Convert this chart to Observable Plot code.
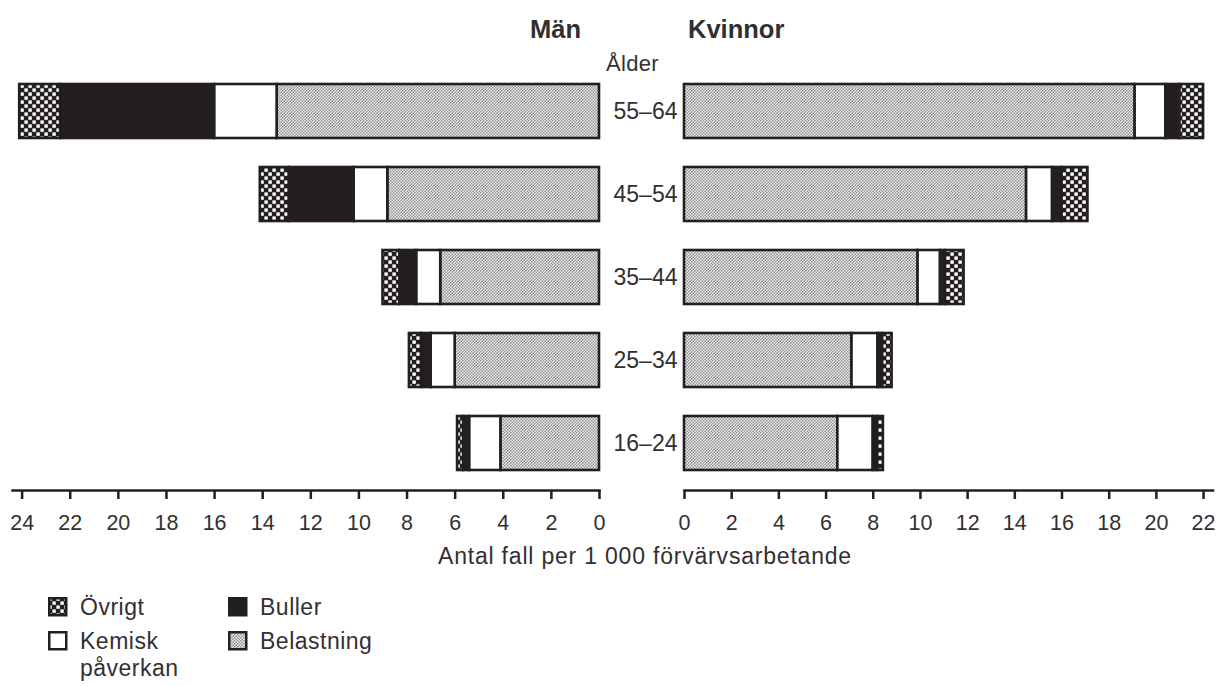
<!DOCTYPE html>
<html>
<head>
<meta charset="utf-8">
<script src="https://cdn.jsdelivr.net/npm/d3@7"></script>
<script src="https://cdn.jsdelivr.net/npm/@observablehq/plot@0.6"></script>
<style>
  html, body { margin: 0; padding: 0; background: #ffffff; }
  #root { position: relative; width: 1222px; height: 686px; overflow: hidden;
          font-family: "Liberation Sans", Arial, Helvetica, sans-serif; color: #332f30; }
  .abs { position: absolute; line-height: 1; white-space: nowrap; }
  .plot { position: absolute; top: 0; }
</style>
</head>
<body>
<svg width="0" height="0" style="position:absolute">
  <defs>
    <pattern id="belast" width="3" height="3" patternUnits="userSpaceOnUse">
      <rect width="3" height="3" fill="#efefef"/>
      <rect x="0" y="0" width="1.5" height="1.5" fill="#8f8f8f"/>
      <rect x="1.5" y="1.5" width="1.5" height="1.5" fill="#8f8f8f"/>
    </pattern>
    <pattern id="ovrigt" width="8" height="8" patternUnits="userSpaceOnUse">
      <rect width="8" height="8" fill="#231f20"/>
      <rect x="0.4" y="0.4" width="3.4" height="3.4" fill="#ffffff"/>
      <rect x="4.4" y="4.4" width="3.4" height="3.4" fill="#ffffff"/>
    </pattern>
  </defs>
</svg>
<div id="root"></div>
<script>
// ---- data ----
const ages = ["55–64", "45–54", "35–44", "25–34", "16–24"];
const causes = ["Belastning", "Kemisk påverkan", "Buller", "Övrigt"];

const menBelastning = [13.4, 8.8, 6.6, 6.0, 4.1];
const menKemisk     = [2.6, 1.4, 1.0, 1.0, 1.3];
const menBuller     = [6.4, 2.7, 0.7, 0.4, 0.25];
const menOvrigt     = [1.7, 1.2, 0.7, 0.5, 0.25];

const womenBelastning = [19.1, 14.5, 9.9, 7.1, 6.5];
const womenKemisk     = [1.3, 1.1, 0.95, 1.1, 1.5];
const womenBuller     = [0.6, 0.4, 0.2, 0.2, 0.18];
const womenOvrigt     = [1.0, 1.1, 0.8, 0.4, 0.25];

const menTicks = [0, 2, 4, 6, 8, 10, 12, 14, 16, 18, 20, 22, 24];
const womenTicks = [0, 2, 4, 6, 8, 10, 12, 14, 16, 18, 20, 22];

const titleMen = "Män";
const titleWomen = "Kvinnor";
const ageLabel = "Ålder";
const axisTitle = "Antal fall per 1 000 förvärvsarbetande";

// ---- build tables ----
function table(series) {
  const rows = [];
  ages.forEach((a, i) => {
    causes.forEach((c, j) => rows.push({age: a, cause: c, value: series[j][i]}));
  });
  return rows;
}
const menData = table([menBelastning, menKemisk, menBuller, menOvrigt]);
const womenData = table([womenBelastning, womenKemisk, womenBuller, womenOvrigt]);

const ink = "#231f20";
const fills = ["url(#belast)", "#ffffff", ink, "url(#ovrigt)"];
const common = {
  height: 560,
  marginTop: 64,
  marginBottom: 70,
  style: {fontFamily: "'Liberation Sans', Arial, Helvetica, sans-serif", fontSize: "21px", color: "#332f30", background: "transparent"},
  y: {domain: ages, paddingInner: 0.35, paddingOuter: 0.228, axis: null},
  color: {type: "ordinal", domain: causes, range: fills}
};
function bars(data) {
  return Plot.barX(data, Plot.stackX({
    x: "value", y: "age", fill: "cause", order: causes,
    stroke: ink, strokeWidth: 2.6, inset: 0
  }));
}

const menPlot = Plot.plot({
  ...common,
  width: 610,
  marginLeft: 12,
  marginRight: 11,
  x: {domain: [0, 24.4], reverse: true, axis: null},
  marks: [
    bars(menData),
    Plot.frame({anchor: "bottom", stroke: ink, strokeWidth: 2.5}),
    Plot.axisX({ticks: menTicks, tickSize: 9, tickPadding: 15, label: null, stroke: ink, strokeWidth: 2.5, fontSize: 21.5})
  ]
});

const womenPlot = Plot.plot({
  ...common,
  width: 612,
  marginLeft: 74,
  marginRight: 9.5,
  x: {domain: [0, 22.4], axis: null},
  marks: [
    bars(womenData),
    Plot.frame({anchor: "bottom", stroke: ink, strokeWidth: 2.5}),
    Plot.axisX({ticks: womenTicks, tickSize: 9, tickPadding: 15, label: null, stroke: ink, strokeWidth: 2.5, fontSize: 21.5}),
    Plot.axisY({anchor: "left", tickSize: 0, tickPadding: 7, label: null, fontSize: 23})
  ]
});

const root = document.getElementById("root");
const lw = document.createElement("div"); lw.className = "plot"; lw.style.left = "0px"; lw.appendChild(menPlot); root.appendChild(lw);
const rw = document.createElement("div"); rw.className = "plot"; rw.style.left = "610px"; rw.appendChild(womenPlot); root.appendChild(rw);

// text placed by baseline
function place(text, x, baseline, fs, bold, spacing) {
  const d = document.createElement("div");
  d.className = "abs";
  d.textContent = text;
  d.style.left = x + "px";
  d.style.fontSize = fs + "px";
  d.style.top = (baseline - 0.8465 * fs) + "px";
  if (bold) d.style.fontWeight = "bold";
  if (spacing) d.style.letterSpacing = spacing + "px";
  root.appendChild(d);
  return d;
}
place(titleMen, 530, 39, 25.5, true);
place(titleWomen, 688, 39, 25.5, true);
place(ageLabel, 606, 72, 22, false, 0.3);
place(axisTitle, 438, 564, 23, false, 0.8);

// legend
const legendItems = [
  {cause: "Övrigt", fill: fills[3], x: 48, y: 597, lines: ["Övrigt"]},
  {cause: "Buller", fill: fills[2], x: 228, y: 597, lines: ["Buller"]},
  {cause: "Kemisk påverkan", fill: fills[1], x: 48, y: 631, lines: ["Kemisk", "påverkan"]},
  {cause: "Belastning", fill: fills[0], x: 228, y: 631, lines: ["Belastning"]}
];
legendItems.forEach(item => {
  const s = d3.create("svg").attr("width", 20).attr("height", 20)
    .style("position", "absolute").style("left", item.x + "px").style("top", item.y + "px");
  s.append("rect").attr("x", 1.25).attr("y", 1.25).attr("width", 17).attr("height", 17)
    .attr("fill", item.fill).attr("stroke", ink).attr("stroke-width", 2.5);
  root.appendChild(s.node());
  item.lines.forEach((t, k) => place(t, item.x + 32, item.y + 18 + k * 27, 23, false, 0.5));
});
</script>
</body>
</html>
